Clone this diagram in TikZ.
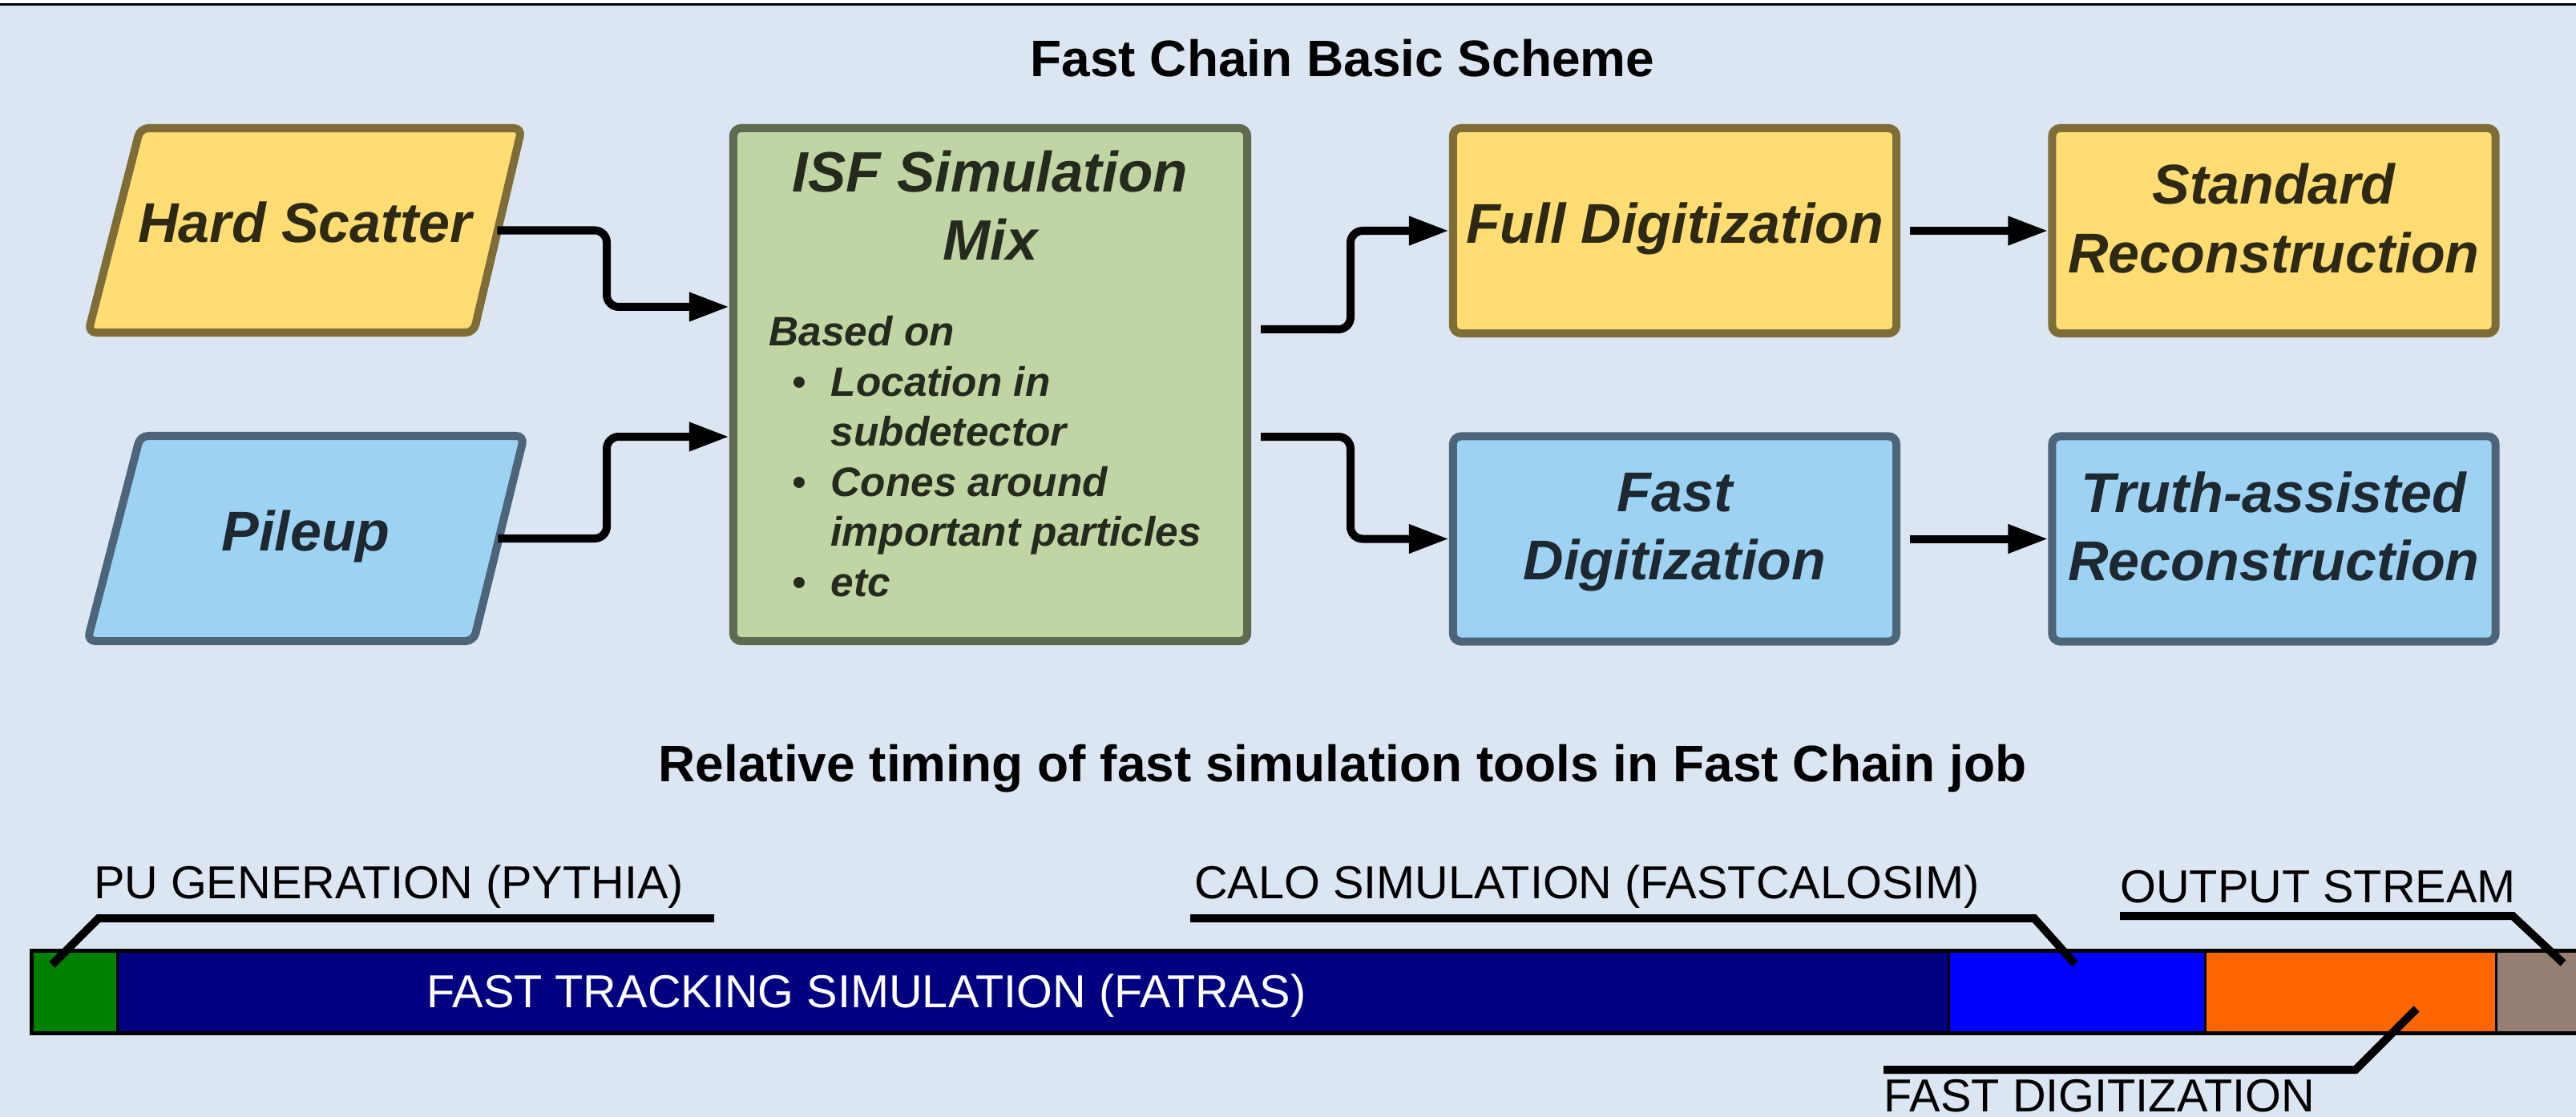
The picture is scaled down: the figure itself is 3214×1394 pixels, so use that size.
\documentclass[tikz,border=0pt]{standalone}
\usepackage{fontspec}
\setmainfont{Liberation Sans}
\usetikzlibrary{arrows.meta}
\definecolor{bgc}{HTML}{DCE6F2}
\definecolor{yfill}{HTML}{FFDD72}
\definecolor{ydraw}{HTML}{7F6D38}
\definecolor{ytext}{HTML}{2D2915}
\definecolor{bfill}{HTML}{9DD2F2}
\definecolor{bdraw}{HTML}{4C6578}
\definecolor{btext}{HTML}{1D2831}
\definecolor{gfill}{HTML}{C1D4A3}
\definecolor{gdraw}{HTML}{5F6A51}
\definecolor{gtext}{HTML}{252A1E}
\definecolor{pugreen}{HTML}{008000}
\definecolor{navyseg}{HTML}{000080}
\definecolor{caloseg}{HTML}{0000FF}
\definecolor{digiseg}{HTML}{FF6600}
\definecolor{outseg}{HTML}{947F72}
\newcommand\boxfont{\fontsize{19.9pt}{24.2pt}\selectfont\bfseries\itshape}
\newcommand\isftitlefont{\fontsize{20.2pt}{24.2pt}\selectfont\bfseries\itshape}
\newcommand\isflistfont{\fontsize{14.6pt}{17.7pt}\selectfont\bfseries\itshape}
\newcommand\headfont{\fontsize{18.2pt}{22pt}\selectfont\bfseries}
\newcommand\barfont{\fontsize{16.4pt}{19.7pt}\selectfont}
\newcommand\lowstrut{\rule[-9pt]{0pt}{0pt}}
\tikzset{
  box/.style={draw, line width=0.1cm, rounded corners=0.1cm, minimum width=5.53cm,
    minimum height=2.56cm, inner sep=0pt, font=\boxfont},
  onel/.style={text height=14.3pt, text depth=5.6pt},
  ybox/.style={box, fill=yfill, draw=ydraw, text=ytext},
  bbox/.style={box, fill=bfill, draw=bdraw, text=btext},
  parashape/.style={line width=0.1cm, rounded corners=0.1cm},
  paratext/.style={inner sep=0pt, minimum width=4.78cm, minimum height=2.55cm, font=\boxfont, onel},
  conn/.style={line width=0.1cm, rounded corners=0.15cm,
    -{Triangle[length=0.5cm,width=0.34cm]}},
  leader/.style={line width=0.1cm},
  headtxt/.style={font=\headfont, anchor=base, inner sep=0pt},
  barlabel/.style={font=\barfont, anchor=base, inner sep=0pt},
  seg/.style={draw=black, line width=0.025cm, minimum height=1.03cm, inner sep=0pt, anchor=west},
  isftitle/.style={font=\isftitlefont, text=gtext, anchor=base, inner sep=0pt},
  isftxt/.style={font=\isflistfont, text=gtext, anchor=base west, inner sep=0pt},
  bul/.style={font=\fontsize{14.6pt}{17.7pt}\selectfont, text=gtext, anchor=base, inner sep=0pt},
}
\begin{document}
\begin{tikzpicture}[x=0.01cm,y=-0.01cm]
\useasboundingbox (0,0) rectangle (3214,1394);
\clip (0,0) rectangle (3214,1394);
\fill[bgc] (0,0) rectangle (3214,1394);
\fill[white] (0,0) rectangle (3214,4.3);
\fill[black] (0,4.3) rectangle (3214,7);

% titles
\node[headtxt] (title1) at (1675,96) {Fast Chain Basic Scheme};
\node[headtxt] (title2) at (1675,975) {Relative timing of fast simulation tools in Fast Chain job};

% inputs (parallelograms)
\draw[parashape, fill=yfill, draw=ydraw] (175,160) -- (651,160) -- (591,415) -- (110,415) -- cycle;
\node[paratext, text=ytext] (hs) at (380.5,287.5) {Hard Scatter};
\draw[parashape, fill=bfill, draw=bdraw] (175,544) -- (654,544) -- (591,800) -- (109,800) -- cycle;
\node[paratext, text=btext] (pu) at (381.5,672) {Pileup};

% ISF box
\node[draw=gdraw, fill=gfill, line width=0.1cm, rounded corners=0.1cm,
  minimum width=6.41cm, minimum height=6.40cm, inner sep=0pt] (isf) at (1235.5,480) {};
\node[isftitle] (isft1) at (1235.5,239) {ISF Simulation};
\node[isftitle] (isft2) at (1235.5,324) {Mix};
\node[isftxt] (based) at (959,431) {Based on};
\node[bul] (b1) at (997,494) {\textbullet};
\node[isftxt] (l1) at (1036,494) {Location in};
\node[isftxt] (l2) at (1036,556) {subdetector};
\node[bul] (b2) at (997,619) {\textbullet};
\node[isftxt] (l3) at (1036,619) {Cones around};
\node[isftxt] (l4) at (1036,681) {important particles};
\node[bul] (b3) at (997,744) {\textbullet};
\node[isftxt] (l5) at (1036,744) {etc};

% output boxes
\node[ybox, onel] (fd) at (2089.5,288) {Full Digitization};
\node[ybox, align=center] (sr) at (2837,288) {Standard\\Reconstruction\lowstrut};
\node[bbox, align=center] (fast) at (2089.5,672.5) {Fast\\Digitization\lowstrut};
\node[bbox, align=center] (truth) at (2837,672.5) {Truth-assisted\\Reconstruction\lowstrut};

% connectors
\draw[conn] (hs.east) -| (757,383) -- ([yshift=0.97cm]isf.west);
\draw[conn] (pu.east) -| (757,545) -- ([yshift=-0.65cm]isf.west);
\draw[conn] ([xshift=0.12cm,yshift=0.69cm]isf.east) -- (1685,411) |- (fd.west);
\draw[conn] ([xshift=0.12cm,yshift=-0.65cm]isf.east) -- (1685,545) |- (fast.west);
\draw[conn] ([xshift=0.12cm]fd.east) -- (sr.west);
\draw[conn] ([xshift=0.12cm]fast.east) -- (truth.west);

% timing bar
\node[seg, fill=pugreen, minimum width=1.08cm] (sgen) at (37,1238) {};
\node[seg, fill=navyseg, minimum width=22.85cm] (strk) at (145,1238) {};
\node[seg, fill=caloseg, minimum width=3.20cm] (scalo) at (2430,1238) {};
\node[seg, fill=digiseg, minimum width=3.63cm] (sdigi) at (2750,1238) {};
\node[seg, fill=outseg, minimum width=2.50cm] (sout) at (3113,1238) {};
\draw[line width=0.05cm] (3400,1186.5) -- (39.5,1186.5) -- (39.5,1289.5) -- (3400,1289.5);

\node[barlabel, text=white] (ltrk) at (1081,1257) {FAST TRACKING SIMULATION (FATRAS)};
\node[barlabel] (lpu) at (485,1121) {PU GENERATION (PYTHIA)};
\node[barlabel] (lcalo) at (1980,1121) {CALO SIMULATION (FASTCALOSIM)};
\node[barlabel] (lout) at (2892,1126) {OUTPUT STREAM};
\node[barlabel] (ldig) at (2619.5,1387) {FAST DIGITIZATION};

% leaders
\coordinate (pua) at (891,1146);   \coordinate (pub) at (65,1204);
\coordinate (caa) at (1485,1146);  \coordinate (cab) at (2589,1203);
\coordinate (oua) at (2645,1143);  \coordinate (oub) at (3198,1202);
\coordinate (dia) at (2350,1335);  \coordinate (dib) at (3015,1259);
\draw[leader] (pua) -- (123,1146) -- (pub);
\draw[leader] (caa) -- (2538,1146) -- (cab);
\draw[leader] (oua) -- (3135,1143) -- (oub);
\draw[leader] (dia) -- (2939,1335) -- (dib);
\end{tikzpicture}
\end{document}
